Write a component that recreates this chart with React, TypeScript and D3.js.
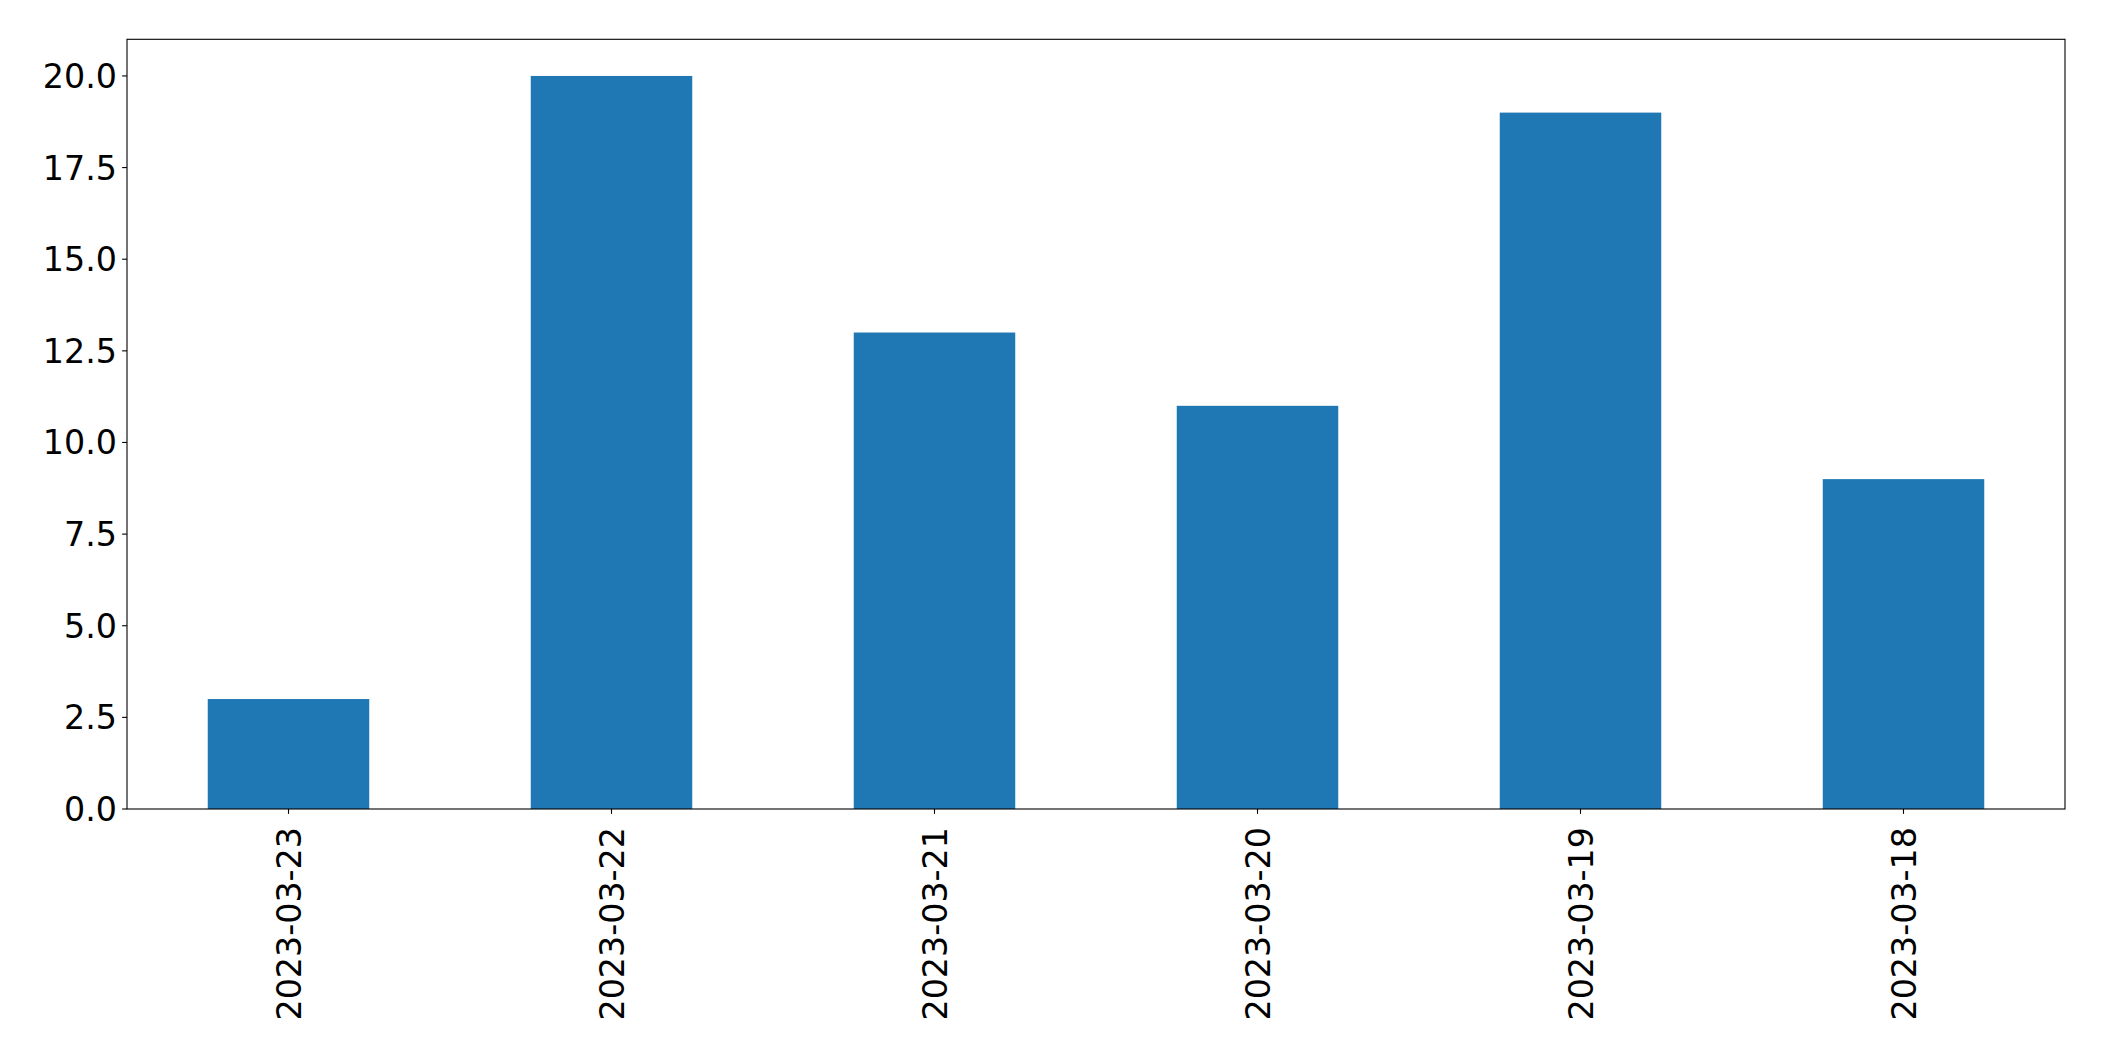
import React from "react";
import * as d3 from "d3";

const categories = ["2023-03-23", "2023-03-22", "2023-03-21", "2023-03-20", "2023-03-19", "2023-03-18"];
const values = [3, 20, 13, 11, 19, 9];
const yTicks = [0, 2.5, 5, 7.5, 10, 12.5, 15, 17.5, 20];

const W = 2104;
const H = 1061;
const left = 127;
const right = 2065;
const top = 39.3;
const bottom = 809;
const fs = 33.3;

export default function App() {
  const x = d3.scaleBand<string>().domain(categories).range([left, right]).paddingInner(0.5).paddingOuter(0.25);
  const y = d3.scaleLinear().domain([0, 21]).range([bottom, top]);
  const fmt = d3.format(".1f");
  return (
    <svg width={W} height={H} style={{ position: "absolute", left: 0, top: 0, background: "#fff" }}
      fontFamily="DejaVu Sans" fontSize={fs}>
      <rect x={0} y={0} width={W} height={H} fill="#fff" />
      {categories.map((c, i) => (
        <rect key={c} x={x(c)!} y={y(values[i])} width={x.bandwidth()} height={bottom - y(values[i])} fill="#1f77b4" />
      ))}
      <rect x={left} y={top} width={right - left} height={bottom - top} fill="none" stroke="#000" strokeWidth={1.1} />
      {yTicks.map((t) => (
        <g key={t}>
          <line x1={left - 4.9} x2={left} y1={y(t)} y2={y(t)} stroke="#000" strokeWidth={1.1} />
          <text x={left - 10} y={y(t)} dy="0.36em" textAnchor="end" fill="#000">{fmt(t)}</text>
        </g>
      ))}
      {categories.map((c) => {
        const cx = x(c)! + x.bandwidth() / 2;
        return (
          <g key={c}>
            <line x1={cx} x2={cx} y1={bottom} y2={bottom + 4.9} stroke="#000" strokeWidth={1.1} />
            <text transform={`translate(${cx},${bottom + 18}) rotate(-90)`} dy="0.36em" textAnchor="end" fill="#000">{c}</text>
          </g>
        );
      })}
    </svg>
  );
}
